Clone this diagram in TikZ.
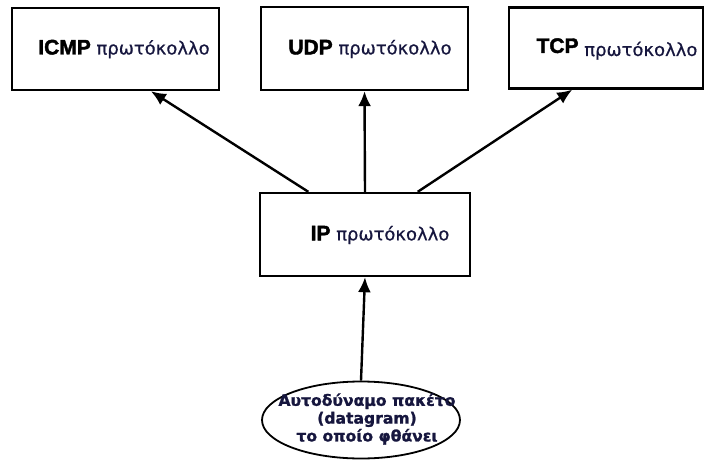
\documentclass[tikz,border=0pt]{standalone}
\usepackage{fontspec}
\setmainfont{DejaVu Sans}[FakeBold=1.2]
\newfontfamily\acrfont{Liberation Sans}[FakeBold=2]
\newfontfamily\greekfont{DejaVu Sans}[FakeBold=0.6]
\usetikzlibrary{arrows.meta}
\usetikzlibrary{shapes.geometric}
\tikzset{protobox/.style = {draw, line width=1.2pt, inner sep=0pt},
         protoname/.style = {inner sep=0pt, font=\greekfont\fontsize{9pt}{11pt}\selectfont, text=gtext},
         feed/.style = {-{Latex[length=7.5pt,width=6.5pt]}, line width=1.2pt}}
\definecolor{gtext}{RGB}{22,22,62}
\newcommand{\acr}[1]{{\acrfont\bfseries\fontsize{10.5pt}{12pt}\selectfont\color{black}#1}}

\begin{document}
\begin{tikzpicture}[x=0.5pt, y=-0.5pt]
    \useasboundingbox (0, 0) rectangle (713, 461);

    \node [protobox, minimum width=103.5pt, minimum height=41pt] (icmp) at (115.5, 49) {};
    \node [protobox, minimum width=103.5pt, minimum height=41.5pt] (udp) at (364.5, 48.5) {};
    \node [protobox, minimum width=97pt, minimum height=40.5pt] (tcp) at (606, 48) {};
    \node [protobox, minimum width=105pt, minimum height=41.5pt] (ip) at (365, 234.5) {};
    \node [draw, ellipse, line width=0.9pt, inner sep=0pt, minimum width=99pt, minimum height=38.5pt] (pkt) at (361, 420) {};

    \node [protoname] (icmpt) at (124, 49) {\acr{ICMP} πρωτόκολλο};
    \node [protoname] (udpt) at (370, 49) {\acr{UDP} πρωτόκολλο};
    \node [protoname] (tcpt) at (617, 49) {\acr{TCP} \raisebox{-1.5pt}{πρωτόκολλο}};
    \node [protoname] (ipt) at (380, 235) {\acr{IP} πρωτόκολλο};
    \node [protoname, align=center, font=\bfseries\fontsize{7.8pt}{8.9pt}\selectfont] (pktt) at (367, 419)
        {Αυτοδύναμο πακέτο\\(datagram)\\το οποίο φθάνει};

    \draw [feed] (pkt.north) -- (ip.south);
    \draw [feed] (ip.143) -- (icmp.310);
    \draw [feed] (ip.north) -- (udp.south);
    \draw [feed] (ip.39) -- (tcp.231);
\end{tikzpicture}
\end{document}
